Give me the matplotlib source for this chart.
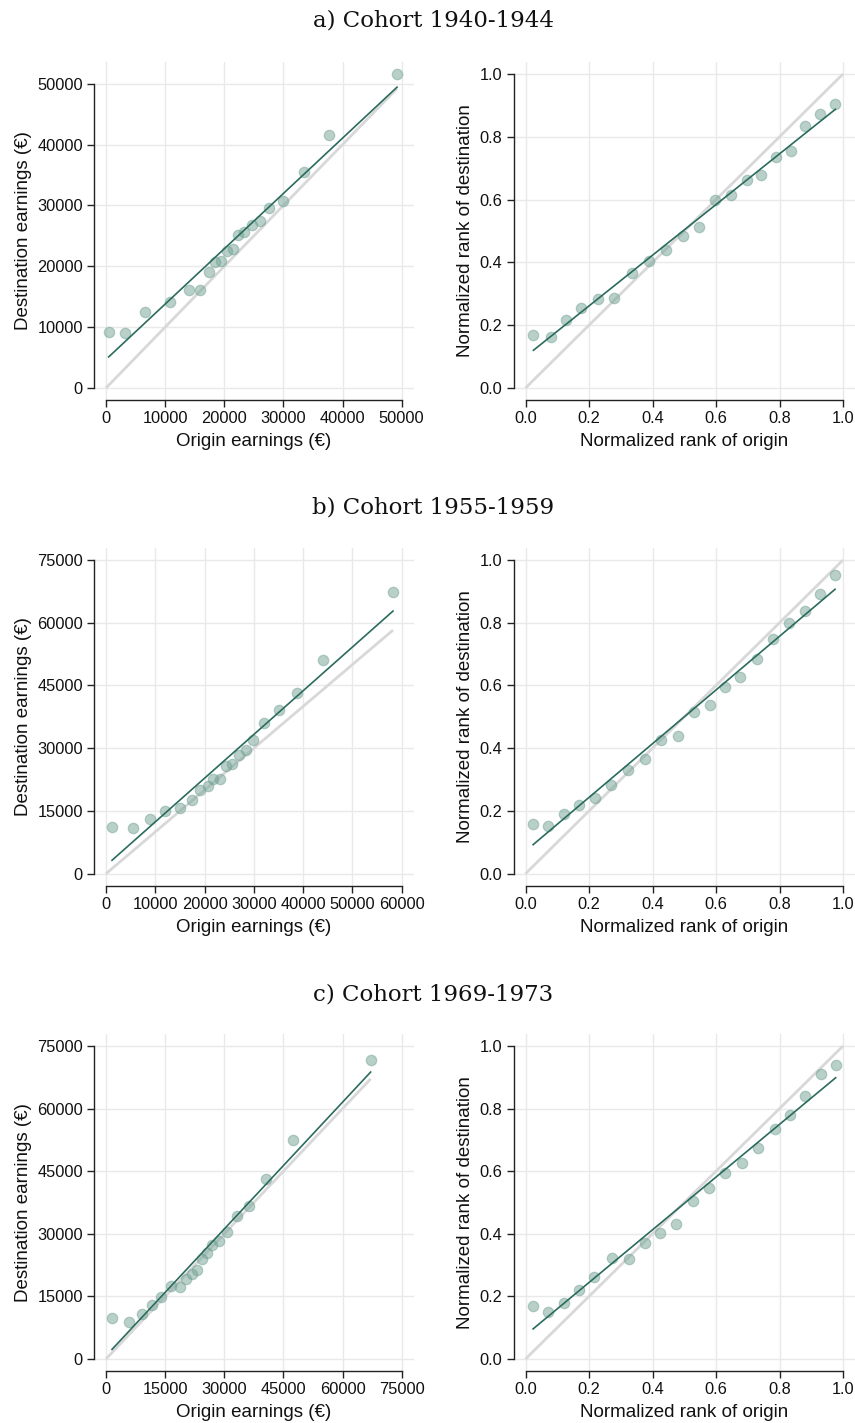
import numpy as np
import matplotlib
matplotlib.use("Agg")
import matplotlib.pyplot as plt
from matplotlib.ticker import FormatStrFormatter

# ---------------- data ----------------
titles = ["a) Cohort 1940-1944", "b) Cohort 1955-1959", "c) Cohort 1969-1973"]

# Cohort 1940-1944 : earnings
a_orig = [450, 3160, 6650, 10880, 13980, 15900, 17360, 18490, 19450, 20460,
          21420, 22270, 23390, 24630, 25990, 27620, 29990, 33430, 37650, 49210]
a_dest = [9170, 9110, 12460, 14210, 16030, 16140, 19040, 20640, 20850, 22500,
          22780, 25190, 25570, 26840, 27500, 29580, 30680, 35450, 41540, 51590]
a_fit = (4695, 0.909)
# Cohort 1940-1944 : ranks
a_rorig = [0.025, 0.079, 0.126, 0.175, 0.227, 0.278, 0.334, 0.389, 0.444, 0.495,
           0.547, 0.597, 0.648, 0.698, 0.742, 0.788, 0.835, 0.881, 0.927, 0.976]
a_rdest = [0.168, 0.163, 0.217, 0.255, 0.282, 0.287, 0.365, 0.406, 0.440, 0.483,
           0.513, 0.599, 0.616, 0.663, 0.678, 0.737, 0.756, 0.834, 0.872, 0.903]
a_rfit = (0.100, 0.807)

# Cohort 1955-1959 : earnings
b_orig = [1220, 5410, 8930, 11900, 15080, 17520, 19140, 20700, 21780, 23130,
          24350, 25640, 26920, 28340, 29900, 31990, 35040, 38830, 43970, 58240]
b_dest = [11170, 10930, 13170, 15000, 15800, 17630, 19950, 20910, 22660, 22740,
          25690, 26170, 28330, 29520, 31920, 35990, 39100, 43090, 51070, 67260]
b_fit = (1937, 1.045)
# Cohort 1955-1959 : ranks
b_rorig = [0.024, 0.070, 0.120, 0.169, 0.218, 0.270, 0.322, 0.376, 0.428, 0.481,
           0.532, 0.581, 0.629, 0.677, 0.728, 0.780, 0.829, 0.879, 0.929, 0.975]
b_rdest = [0.159, 0.152, 0.189, 0.218, 0.240, 0.283, 0.332, 0.367, 0.426, 0.438,
           0.517, 0.539, 0.596, 0.627, 0.686, 0.748, 0.799, 0.839, 0.891, 0.952]
b_rfit = (0.072, 0.856)

# Cohort 1969-1973 : earnings
c_orig = [1520, 5750, 9220, 11670, 14040, 16490, 18690, 20380, 21810, 23170,
          24350, 25700, 26970, 28660, 30610, 33140, 36360, 40500, 47520, 67130]
c_dest = [9890, 8940, 10850, 12930, 14920, 17550, 17160, 19150, 20270, 21220,
          23860, 25290, 27210, 28330, 30400, 34150, 36620, 43170, 52420, 71570]
c_fit = (760, 1.013)
# Cohort 1969-1973 : ranks
c_rorig = [0.024, 0.072, 0.121, 0.169, 0.217, 0.271, 0.325, 0.376, 0.425, 0.475,
           0.527, 0.578, 0.629, 0.682, 0.733, 0.786, 0.832, 0.881, 0.931, 0.977]
c_rdest = [0.169, 0.149, 0.179, 0.220, 0.263, 0.323, 0.319, 0.372, 0.404, 0.432,
           0.506, 0.545, 0.594, 0.626, 0.673, 0.735, 0.781, 0.839, 0.911, 0.938]
c_rfit = (0.076, 0.842)

earn_xticks = [list(range(0, 50001, 10000)), list(range(0, 60001, 10000)), list(range(0, 75001, 15000))]
earn_yticks = [list(range(0, 50001, 10000)), list(range(0, 75001, 15000)), list(range(0, 75001, 15000))]
rank_ticks = [0.0, 0.2, 0.4, 0.6, 0.8, 1.0]

earn_data = [(a_orig, a_dest, a_fit), (b_orig, b_dest, b_fit), (c_orig, c_dest, c_fit)]
rank_data = [(a_rorig, a_rdest, a_rfit), (b_rorig, b_rdest, b_rfit), (c_rorig, c_rdest, c_rfit)]

# ---------------- style ----------------
W, H = 855, 1423
fig = plt.figure(figsize=(W / 100, H / 100), dpi=100)
SANS = ["Liberation Sans", "DejaVu Sans"]
SERIF = ["DejaVu Serif"]

PT_COLOR = "#74a395"
FIT_COLOR = "#2b6b5e"
DIAG_COLOR = "#d8d8d8"
GRID_COLOR = "#e9e9e9"
PAD = 12  # px between data range and plot-region edge

col_x = [(94, 413.7), (513.5, 855)]
row_y = [(62, 400), (548, 885.7), (1034, 1371)]
title_y = [20, 508, 995]


def lims(lo, hi, length):
    unit = (hi - lo) / (length - 2 * PAD)
    return lo - PAD * unit, hi + PAD * unit


def make_ax(x0, x1, y0, y1):
    return fig.add_axes([x0 / W, 1 - y1 / H, (x1 - x0) / W, (y1 - y0) / H])


def style(ax, xt, yt, xl, yl, fmt=None):
    for s in ["top", "right"]:
        ax.spines[s].set_visible(False)
    ax.spines["left"].set_bounds(yt[0], yt[-1])
    ax.spines["bottom"].set_bounds(xt[0], xt[-1])
    for s in ["left", "bottom"]:
        ax.spines[s].set_linewidth(1.0)
        ax.spines[s].set_color("#222222")
    ax.set_xticks(xt)
    ax.set_yticks(yt)
    if fmt:
        ax.xaxis.set_major_formatter(FormatStrFormatter(fmt))
        ax.yaxis.set_major_formatter(FormatStrFormatter(fmt))
    ax.tick_params(direction="out", length=5, width=1.0, color="#222222",
                   labelsize=11.8, pad=3, labelcolor="#111111")
    for lab in ax.get_xticklabels() + ax.get_yticklabels():
        lab.set_family(SANS)
    ax.grid(True, color=GRID_COLOR, linewidth=1.0)
    ax.set_axisbelow(True)
    ax.set_xlabel(xl, family=SANS, fontsize=13.5, labelpad=5, color="#111111")
    ax.set_ylabel(yl, family=SANS, fontsize=13.5, labelpad=4, color="#111111")


for r in range(3):
    # earnings panel
    x0, x1 = col_x[0]
    y0, y1 = row_y[r]
    ax = make_ax(x0, x1, y0, y1)
    xo, yd, (b0, b1) = earn_data[r]
    xo = np.array(xo, float)
    yd = np.array(yd, float)
    xt, yt = earn_xticks[r], earn_yticks[r]
    ax.plot([0, xo.max()], [0, xo.max()], color=DIAG_COLOR, lw=2.0, zorder=1,
            solid_capstyle="butt")
    ax.scatter(xo, yd, s=56, color=PT_COLOR, alpha=0.5, edgecolors=PT_COLOR,
               linewidths=0.9, zorder=2)
    fx = np.array([xo.min(), xo.max()])
    ax.plot(fx, b0 + b1 * fx, color=FIT_COLOR, lw=1.2, zorder=3)
    ax.set_xlim(*lims(min(xt[0], xo.min()), max(xt[-1], xo.max()), x1 - x0))
    ax.set_ylim(*lims(min(yt[0], yd.min()), max(yt[-1], yd.max()), y1 - y0))
    style(ax, xt, yt, "Origin earnings (€)", "Destination earnings (€)")

    # rank panel
    x0, x1 = col_x[1]
    ax = make_ax(x0, x1, y0, y1)
    xo, yd, (b0, b1) = rank_data[r]
    xo = np.array(xo, float)
    yd = np.array(yd, float)
    ax.plot([0, 1], [0, 1], color=DIAG_COLOR, lw=2.0, zorder=1, solid_capstyle="butt")
    ax.scatter(xo, yd, s=56, color=PT_COLOR, alpha=0.5, edgecolors=PT_COLOR,
               linewidths=0.9, zorder=2)
    fx = np.array([xo.min(), xo.max()])
    ax.plot(fx, b0 + b1 * fx, color=FIT_COLOR, lw=1.2, zorder=3)
    ax.set_xlim(*lims(0, 1, x1 - x0))
    ax.set_ylim(*lims(0, 1, y1 - y0))
    style(ax, rank_ticks, rank_ticks, "Normalized rank of origin",
          "Normalized rank of destination", fmt="%.1f")

    fig.text(433 / W, 1 - title_y[r] / H, titles[r], family=SERIF, fontsize=16.5,
             ha="center", va="center", color="#111111")

fig.savefig("out.png", dpi=100)
